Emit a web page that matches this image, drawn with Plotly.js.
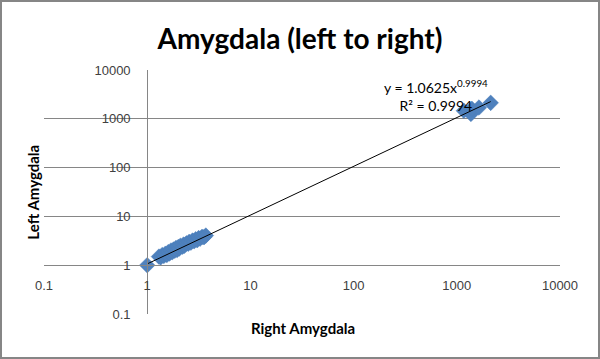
<!DOCTYPE html>
<html>
<head>
<meta charset="utf-8">
<script src="https://cdn.plot.ly/plotly-3.0.1.min.js"></script>
<style>
  html, body { margin: 0; padding: 0; background: #fff; }
  #chart { width: 600px; height: 359px; box-sizing: border-box; border: 2px solid #868686; }
</style>
</head>
<body>
<div id="chart"></div>
<script>
// Right amygdala (x) and left amygdala (y) values
const rightAmygdala = [1.00,
  1.30, 1.35, 1.40, 1.45, 1.50, 1.55, 1.60, 1.65, 1.70, 1.75, 1.80, 1.85, 1.90, 1.95,
  2.00, 2.05, 2.10, 2.20, 2.25, 2.30, 2.40, 2.50, 2.55, 2.65, 2.75, 2.85, 2.95, 3.05,
  3.15, 3.25, 3.40, 3.55, 3.70,
  1170, 1370, 1400, 1640, 2130];
const leftAmygdala = [1.00,
  1.50, 1.45, 1.62, 1.55, 1.72, 1.62, 1.85, 1.75, 2.00, 1.85, 2.10, 1.98, 2.25, 2.05,
  2.35, 2.20, 2.50, 2.40, 2.65, 2.50, 2.80, 2.75, 3.00, 2.90, 3.20, 3.10, 3.40, 3.25,
  3.60, 3.50, 3.80, 3.75, 4.05,
  1460, 1260, 1600, 1700, 2120];
// Power trendline y = a * x^b shown on the chart
const trendA = 1.0625, trendB = 0.9994, trendR2 = 0.9994;
const xTickVals = [0.1, 1, 10, 100, 1000, 10000];
const yTickVals = [0.1, 1, 10, 100, 1000, 10000];
const xTickText = ['0.1', '1', '10', '100', '1000', '10000'];
const yTickText = ['0.1', '1', '10', '100', '1000', '10000'];

const xMin = Math.min(...rightAmygdala), xMax = Math.max(...rightAmygdala);
const trendX = [], trendY = [];
for (let i = 0; i <= 20; i++) {
  const x = Math.pow(10, Math.log10(xMin) + (Math.log10(xMax) - Math.log10(xMin)) * i / 20);
  trendX.push(x); trendY.push(trendA * Math.pow(x, trendB));
}

const tickFont = { family: 'Liberation Sans, Arial, sans-serif', size: 13, color: '#404040' };
const labelFont = { family: 'Lato, Calibri, sans-serif', size: 15, color: '#000' };
const traces = [
  {
    type: 'scatter', mode: 'markers', x: rightAmygdala, y: leftAmygdala,
    marker: { symbol: 'diamond', size: 12, color: '#4F81BD', line: { color: '#4A7EBB', width: 0.5 } },
    hoverinfo: 'x+y', showlegend: false
  },
  {
    type: 'scatter', mode: 'lines', x: trendX, y: trendY,
    line: { color: '#000000', width: 1 }, hoverinfo: 'skip', showlegend: false
  }
];

const layout = {
  width: 596, height: 355,
  margin: { l: 42, r: 38, t: 68, b: 43 },
  paper_bgcolor: '#fff', plot_bgcolor: '#fff',
  showlegend: false,
  title: { text: '<b>Amygdala (left to right)</b>', x: 0.5, xanchor: 'center', y: 0.895, yanchor: 'middle',
           font: { family: 'Lato, Calibri, sans-serif', size: 28, color: '#000' } },
  xaxis: {
    type: 'log', range: [-1, 4], anchor: 'free', position: 0.2,
    tickvals: xTickVals, ticktext: xTickText, ticks: '', ticklabelstandoff: 8,
    showgrid: false, zeroline: false, showline: true, linecolor: '#868686', linewidth: 1,
    tickfont: tickFont
  },
  yaxis: {
    type: 'log', range: [-1, 4], anchor: 'free', position: 0.2,
    tickvals: yTickVals, ticktext: yTickText, ticks: '', ticklabelstandoff: 14,
    showgrid: true, gridcolor: '#868686', gridwidth: 1, zeroline: false,
    showline: true, linecolor: '#868686', linewidth: 1,
    tickfont: tickFont
  },
  annotations: [
    { xref: 'paper', yref: 'paper', x: -0.022, y: 0.5, text: '<b>Left Amygdala</b>', textangle: -90,
      showarrow: false, xanchor: 'center', yanchor: 'middle', font: labelFont },
    { xref: 'paper', yref: 'paper', x: 0.502, y: -0.057, text: '<b>Right Amygdala</b>',
      showarrow: false, xanchor: 'center', yanchor: 'middle', font: labelFont },
    { xref: 'paper', yref: 'paper', x: 0.76, y: 0.895, align: 'center',
      text: 'y = ' + trendA.toFixed(4) + 'x<sup>' + trendB.toFixed(4) + '</sup><br>R² = ' + trendR2.toFixed(4),
      showarrow: false, xanchor: 'center', yanchor: 'middle',
      font: { family: 'Lato, Calibri, sans-serif', size: 14, color: '#000' } }
  ]
};

Plotly.newPlot('chart', traces, layout, { displayModeBar: false, staticPlot: true });
</script>
</body>
</html>
